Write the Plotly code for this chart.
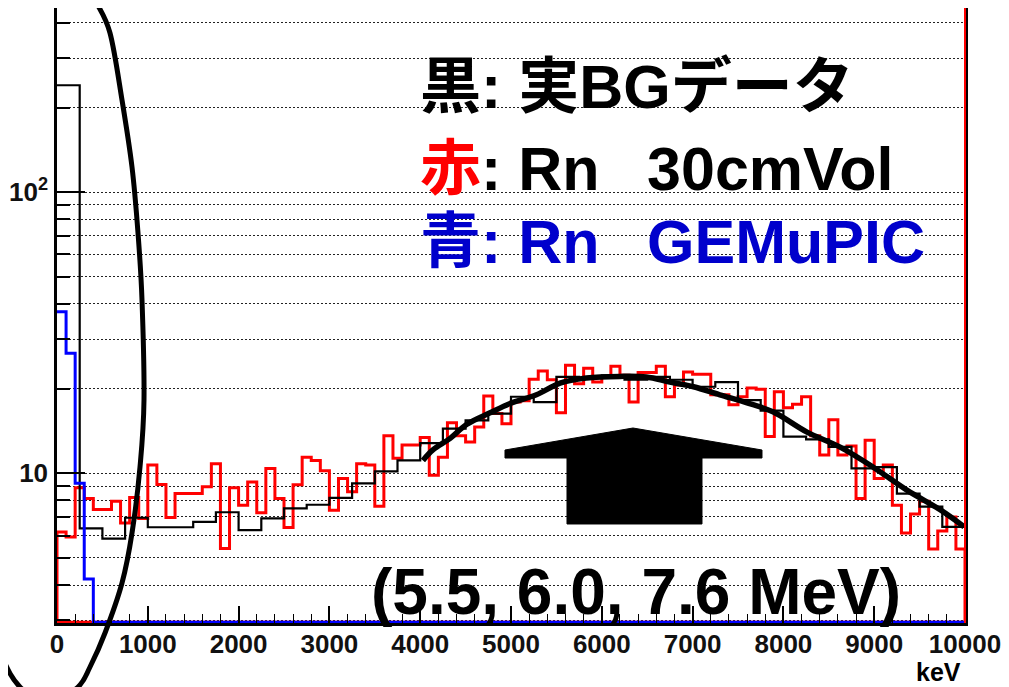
import math
import plotly.graph_objects as go

# ---------------- data ----------------
x_max_kev = 10000
black_bin_kev = 250
red_bin_kev = 100
blue_bin_kev = 100

black_counts = [240, 6.36, 5.85, 6.94, 6.42, 6.42, 6.71, 7.26, 6.27, 6.90,
                7.50, 7.72, 8.17, 9.2, 10.15, 11.1, 12.8, 14.4, 15.4, 16.3,
                18.7, 17.9, 22.0, 21.8, 22.3, 21.5, 22.0, 21.5, 20.3, 21.1,
                18.2, 16.7, 13.5, 13.2, 12.4, 10.4, 10.5, 8.46, 7.6, 6.44]

red_counts = [6.18, 5.93, 8.87, 8.13, 7.43, 7.43, 7.94, 6.65, 8.19, 6.90,
              10.7, 9.12, 6.95, 8.47, 8.47, 8.47, 8.94, 10.8, 5.40, 8.87,
              7.69, 9.31, 7.23, 10.4, 8.13, 6.41, 9.10, 11.4, 11.1, 10.2,
              7.38, 9.57, 8.58, 10.8, 10.7, 7.63, 13.6, 11.3, 12.6, 12.6,
              13.4, 9.84, 11.4, 15.1, 13.6, 12.9, 14.6, 18.8, 16.3, 15.0,
              17.9, 18.1, 21.6, 23.1, 21.5, 16.4, 24.2, 20.8, 23.6, 21.1,
              22.0, 24.0, 22.3, 17.9, 22.8, 22.8, 24.0, 18.7, 20.6, 22.9,
              22.5, 22.5, 19.0, 19.0, 17.5, 18.7, 20.1, 19.9, 13.5, 19.5,
              17.1, 17.6, 18.7, 13.6, 11.6, 15.5, 11.6, 12.5, 8.13, 13.1,
              9.57, 10.7, 7.69, 6.13, 7.15, 7.94, 5.37, 6.22, 6.99, 5.37]

blue_counts = [37.5, 26.7, 9.2, 4.2] + [0] * 96

fit_kev = [4030, 4140, 4330, 4510, 4770, 4990, 5280, 5540, 5830, 6200, 6490,
           6750, 7010, 7300, 7600, 7890, 8260, 8620, 8990, 9360, 9730, 9990]
fit_counts = [11.1, 12.1, 13.3, 14.9, 16.4, 17.7, 19.0, 20.9, 21.8, 22.1, 22.0,
              21.1, 20.3, 19.0, 17.8, 16.5, 14.0, 12.4, 10.5, 8.7, 7.4, 6.45]

x_tick_vals = [0, 1000, 2000, 3000, 4000, 5000, 6000, 7000, 8000, 9000, 10000]
x_tick_text = ["0", "1000", "2000", "3000", "4000", "5000", "6000", "7000",
               "8000", "9000", "10000"]
y_major_vals = [10, 100]
y_major_text = ["10", "10<sup>2</sup>"]
y_minor_vals = [3, 4, 5, 6, 7, 8, 9, 20, 30, 40, 50, 60, 70, 80, 90, 200, 300, 400]

y_min, y_max = 2.93, 452

GAP = "\u00a0\u2002"
legend_lines = [
    ("黒", "#000000", ":\u00a0実BGデータ", "#000000"),
    ("赤", "#ff0000", ":\u00a0Rn" + GAP + "30cmVol", "#000000"),
    ("青", "#0000cc", ":\u00a0Rn" + GAP + "GEMuPIC", "#0000cc"),
]
energy_note = "(5.5, 6.0, 7.6 MeV)"

# ---------------- geometry ----------------
# the page body adds an 8px offset, so the figure is sized to end at the window edge
OFF = 8
WIN_W, WIN_H = 1009, 687
W, H = WIN_W - OFF, WIN_H - OFF
PLOT_L, PLOT_R, PLOT_T, PLOT_B = 57, 965, 8, 623  # target window pixels
ML, MT = PLOT_L - OFF, PLOT_T - OFF
MR, MB = W - (PLOT_R - OFF), H - (PLOT_B - OFF)
PW, PH = PLOT_R - PLOT_L, PLOT_B - PLOT_T
floor_val = 10 ** (math.log10(y_min) + 0.003)


def fx(px):
    return (px - PLOT_L) / PW


def fy(py):
    return (PLOT_B - py) / PH


def step_path(counts, width, closed=False):
    edges = [i * width for i in range(len(counts) + 1)]
    vals = [c if c > 0 else floor_val for c in counts]
    xs = edges[:]
    ys = vals + [vals[-1]]
    if closed:
        xs = [edges[0]] + xs + [edges[-1], edges[0]]
        ys = [floor_val] + ys + [floor_val, floor_val]
    return xs, ys


def closed_spline_path(pts):
    p = [(fx(a), fy(b)) for a, b in pts]
    n = len(p)
    s = f"M {p[0][0]:.5f},{p[0][1]:.5f}"
    for i in range(n):
        p0, p1, p2, p3 = p[i - 1], p[i], p[(i + 1) % n], p[(i + 2) % n]
        c1 = (p1[0] + (p2[0] - p0[0]) / 6, p1[1] + (p2[1] - p0[1]) / 6)
        c2 = (p2[0] - (p3[0] - p1[0]) / 6, p2[1] - (p3[1] - p1[1]) / 6)
        s += (f" C {c1[0]:.5f},{c1[1]:.5f} {c2[0]:.5f},{c2[1]:.5f}"
              f" {p2[0]:.5f},{p2[1]:.5f}")
    return s + " Z"


FONT = "Liberation Sans, Arial, Noto Sans CJK JP, sans-serif"

fig = go.Figure()

rx, ry = step_path(red_counts, red_bin_kev, closed=True)
fig.add_trace(go.Scatter(x=rx, y=ry, mode="lines", line_shape="hv",
                         line=dict(color="#ff0000", width=3), hoverinfo="skip"))
bx, by = step_path(black_counts, black_bin_kev)
fig.add_trace(go.Scatter(x=bx, y=by, mode="lines", line_shape="hv",
                         line=dict(color="#000000", width=2.2), hoverinfo="skip"))
ux, uy = step_path(blue_counts, blue_bin_kev)
fig.add_trace(go.Scatter(x=ux, y=uy, mode="lines", line_shape="hv",
                         line=dict(color="#0000ff", width=3), hoverinfo="skip"))
fig.add_trace(go.Scatter(x=fit_kev, y=fit_counts, mode="lines", line_shape="spline",
                         line=dict(color="#000000", width=5.5), hoverinfo="skip"))

# ---------------- shapes ----------------
shapes = []
shapes.append(dict(type="line", xref="paper", yref="paper", x0=1, x1=1, y0=0, y1=1,
                   line=dict(color="#ff0000", width=2)))
ellipse_px = [(60, -48), (80, -28), (95, 0), (110, 33), (122, 100), (132, 167),
              (138, 233), (142, 300), (144, 400), (140, 467), (132, 533), (122, 583),
              (105, 633), (90, 667), (78, 687), (50, 703), (20, 687), (0, 653),
              (-25, 590), (-42, 480), (-50, 350), (-45, 200), (-30, 90), (-12, 20),
              (10, -25), (35, -48)]
shapes.append(dict(type="path", xref="paper", yref="paper",
                   path=closed_spline_path(ellipse_px),
                   line=dict(color="#000000", width=5)))
arrow_px = [(505, 450), (633, 428), (762, 450), (762, 458), (702, 458), (702, 524),
            (567, 524), (567, 458), (505, 458)]
path = "M " + " L ".join(f"{fx(a):.5f},{fy(b):.5f}" for a, b in arrow_px) + " Z"
shapes.append(dict(type="path", xref="paper", yref="paper", path=path,
                   fillcolor="#000000", line=dict(color="#000000", width=1)))

# ---------------- annotations ----------------
annotations = []
line_y = [87, 169, 242]
for (kanji, kcol, rest, rcol), yy in zip(legend_lines, line_y):
    txt = f"<span style='color:{kcol}'>{kanji}</span><span style='color:{rcol}'>{rest}</span>"
    annotations.append(dict(xref="paper", yref="paper", x=fx(418), y=fy(yy),
                            xanchor="left", yanchor="middle", showarrow=False,
                            text=txt, font=dict(family=FONT, size=61, weight="bold")))
annotations.append(dict(xref="paper", yref="paper", x=fx(636), y=fy(592),
                        xanchor="center", yanchor="middle", showarrow=False,
                        text=energy_note,
                        font=dict(family=FONT, size=64, weight="bold", color="#000000")))
annotations.append(dict(xref="paper", yref="paper", x=fx(938), y=fy(672),
                        xanchor="center", yanchor="middle", showarrow=False,
                        text="keV",
                        font=dict(family=FONT, size=25, weight="bold", color="#000000")))

fig.update_layout(
    width=W, height=H,
    margin=dict(l=ML, r=MR, t=MT, b=MB, pad=0, autoexpand=False),
    paper_bgcolor="white", plot_bgcolor="white",
    showlegend=False,
    shapes=shapes, annotations=annotations,
    xaxis=dict(range=[0, x_max_kev], tickvals=x_tick_vals, ticktext=x_tick_text,
               automargin=False,
               ticks="inside", ticklen=17, tickwidth=1.5, tickcolor="black",
               minor=dict(dtick=200, ticks="inside", ticklen=9, tickwidth=1.2,
                          tickcolor="black"),
               showgrid=False, zeroline=False,
               showline=True, linecolor="black", linewidth=2.5, mirror=True,
               tickfont=dict(family=FONT, size=26, weight="bold", color="#111"),
               ticklabelstandoff=-4),
    yaxis=dict(type="log", range=[math.log10(y_min), math.log10(y_max)],
               tickvals=y_major_vals, ticktext=y_major_text, automargin=False,
               ticks="inside", ticklen=28, tickwidth=2, tickcolor="black",
               showgrid=True, gridcolor="#222", gridwidth=1, griddash="2px,2px",
               minor=dict(tickvals=y_minor_vals, ticks="inside", ticklen=13,
                          tickwidth=2, tickcolor="black", showgrid=True,
                          gridcolor="#222", gridwidth=1, griddash="2px,2px"),
               zeroline=False,
               showline=True, linecolor="black", linewidth=2.5, mirror=True,
               tickfont=dict(family=FONT, size=26, weight="bold", color="#111"),
               ticklabelstandoff=1),
)

fig.write_html("out.html")
